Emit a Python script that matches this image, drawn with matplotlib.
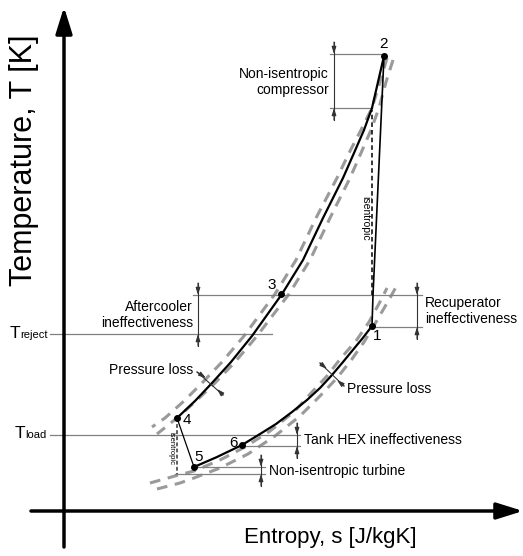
import matplotlib.pyplot as plt

plt.rcParams['font.family'] = ['Liberation Sans', 'DejaVu Sans']

# schematic T-s diagram; drawing units follow the canvas (higher T = smaller y)
state_names = ['1', '2', '3', '4', '5', '6']
state_s = [372, 384, 281, 177, 194, 242]
state_T = [326, 56, 294, 418, 467, 445]

# high pressure side 2 -> 3 -> 4
hp_s = [384, 378, 372, 364, 354, 343, 323, 303, 282, 252, 231, 212, 195, 177]
hp_T = [56, 82, 108, 130, 153, 178, 218, 260, 294, 336, 362, 383, 401, 418]

# low pressure side 5 -> 6 -> 1
lp_s = [194, 217, 242, 260, 276, 292, 307, 320, 332, 343, 352, 362, 372]
lp_T = [467, 457, 445, 434, 424, 412, 400, 388, 375, 362, 351, 339, 326]

# compression 1 -> recuperator -> 2
comp_s = [372, 373, 384]
comp_T = [326, 295, 56]

# turbine 4 -> 5
turb_s = [177, 194]
turb_T = [418, 467]

# isobars (grey dashed)
hp_bar1_s = [387, 380, 372, 361, 349, 337, 316, 296, 275, 244, 222, 202, 184, 165, 152]
hp_bar1_T = [58, 82, 108, 130, 153, 178, 218, 260, 294, 336, 362, 383, 401, 418, 427]
hp_bar2_s = [393, 386, 379, 371, 361, 350, 330, 310, 289, 257, 235, 215, 196, 177, 157]
hp_bar2_T = [60, 82, 108, 130, 153, 178, 218, 260, 294, 336, 362, 383, 401, 418, 434]
lp_bar1_s = [150, 175, 194, 220, 245, 270, 295, 312, 327, 341, 356, 369, 381, 387]
lp_bar1_T = [483, 476, 471, 460, 447, 431, 411, 392, 376, 358, 341, 322, 300, 288]
lp_bar2_s = [157, 180, 194, 220, 248, 275, 300, 320, 337, 352, 364, 376, 390, 396]
lp_bar2_T = [489, 483, 478, 468, 454, 436, 416, 396, 378, 359, 342, 322, 298, 287]

# isentropic references
isen_comp_s = [372, 372]
isen_comp_T = [295, 110]
isen_turb_s = [177, 177]
isen_turb_T = [418, 474]

T_reject = 334
T_load = 435

fig = plt.figure(figsize=(5.23, 5.56), dpi=100)
ax = fig.add_axes([0, 0, 1, 1])
ax.set_xlim(0, 523)
ax.set_ylim(556, 0)
ax.axis('off')

# axes with arrows
arrow_kw = dict(arrowstyle='-|>,head_length=0.8,head_width=0.25', color='k', lw=2.5,
                shrinkA=0, shrinkB=0, mutation_scale=20)
ax.annotate('', xy=(64, 7), xytext=(64, 547), arrowprops=arrow_kw)
ax.annotate('', xy=(523, 511), xytext=(31, 511), arrowprops=arrow_kw)
ax.text(24, 160, 'Temperature, T [K]', rotation=90, ha='center', va='center', fontsize=22)
ax.text(330, 538, 'Entropy, s [J/kgK]', ha='center', va='center', fontsize=16)

# grey isobars
dash_kw = dict(color='#9a9a9a', lw=2.2, dashes=(3.5, 2.5))
for xs, ys in [(hp_bar1_s, hp_bar1_T), (hp_bar2_s, hp_bar2_T),
               (lp_bar1_s, lp_bar1_T), (lp_bar2_s, lp_bar2_T)]:
    ax.plot(xs, ys, **dash_kw)

# reference lines
grey = '#808080'
hlines = [(54, 330, 384), (108, 330, 372), (295, 193, 422), (T_reject, 50, 272),
          (327, 372, 422), (T_load, 50, 300), (446, 242, 300), (467, 194, 265), (474, 175, 265)]
for y, x0, x1 in hlines:
    ax.plot([x0, x1], [y, y], color=grey, lw=0.9)

# cycle
ax.plot(hp_s, hp_T, color='k', lw=1.6, solid_capstyle='round')
ax.plot(lp_s, lp_T, color='k', lw=1.6, solid_capstyle='round')
ax.plot(comp_s, comp_T, color='k', lw=1.2)
ax.plot(turb_s, turb_T, color='k', lw=0.9)
ax.plot(isen_comp_s, isen_comp_T, color='k', lw=1.1, dashes=(3, 2))
ax.plot(isen_turb_s, isen_turb_T, color='#333333', lw=1.1, dashes=(2.5, 1.5))
ax.plot(state_s, state_T, 'o', color='k', ms=4)

label_off = {'1': (5, 10), '2': (0, -12), '3': (-9, -9), '4': (10, 2), '5': (5, -10), '6': (-9, -2)}
for name, s, t in zip(state_names, state_s, state_T):
    dx, dy = label_off[name]
    ax.text(s + dx, t + dy, name, ha='center', va='center', fontsize=11)

small_head = dict(arrowstyle='-|>,head_length=0.7,head_width=0.22', color='#333333',
                  lw=0.8, shrinkA=0, shrinkB=0, mutation_scale=6)


# dimension brackets
def bracket(x, y_hi, y_lo, ext=12):
    ax.plot([x, x], [y_hi - ext, y_lo + ext], color='#333333', lw=0.8)
    for y0, y1 in [(y_hi - ext, y_hi), (y_lo + ext, y_lo)]:
        ax.annotate('', xy=(x, y1), xytext=(x, y0), arrowprops=small_head)


bracket(334, 54, 108)
bracket(198, 295, T_reject)
bracket(417, 295, 327)
bracket(297, T_load, 446)
bracket(261, 467, 474)


def loss_marker(p0, c0, c1, p1):
    ax.plot([p0[0], p1[0]], [p0[1], p1[1]], color='#333333', lw=0.8)
    for a, b in [(p0, c0), (p1, c1)]:
        ax.annotate('', xy=b, xytext=a, arrowprops=small_head)


loss_marker((197, 372), (206, 378), (217, 389), (223, 395))
loss_marker((320, 363), (327, 369), (337, 380), (344, 386))

fs = 10
ax.text(329, 82, 'Non-isentropic\ncompressor', ha='right', va='center', fontsize=fs, linespacing=1.15)
ax.text(193, 315, 'Aftercooler\nineffectiveness', ha='right', va='center', fontsize=fs, linespacing=1.15)
ax.text(425, 311, 'Recuperator\nineffectiveness', ha='left', va='center', fontsize=fs, linespacing=1.15)
ax.text(193, 370, 'Pressure loss', ha='right', va='center', fontsize=fs)
ax.text(347, 389, 'Pressure loss', ha='left', va='center', fontsize=fs)
ax.text(304, 440, 'Tank HEX ineffectiveness', ha='left', va='center', fontsize=fs)
ax.text(269, 471, 'Non-isentropic turbine', ha='left', va='center', fontsize=fs)
ax.text(365, 218, 'isentropic', rotation=-90, ha='center', va='center', fontsize=7.5)
ax.text(171, 449, 'isentropic', rotation=-90, ha='center', va='center', fontsize=5.5)

# temperature levels
ax.text(20, 338, 'T', ha='right', va='baseline', fontsize=12.5)
ax.text(20, 338, 'reject', ha='left', va='baseline', fontsize=8)
ax.text(25, 438, 'T', ha='right', va='baseline', fontsize=12.5)
ax.text(25, 438, 'load', ha='left', va='baseline', fontsize=8)

fig.savefig('out.png', dpi=100)
